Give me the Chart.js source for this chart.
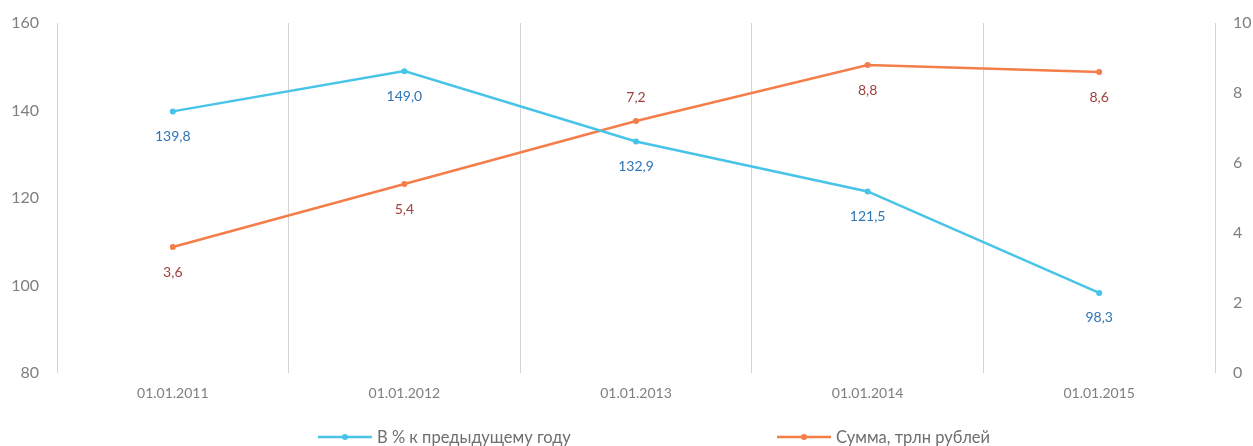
<!DOCTYPE html>
<html>
<head>
<meta charset="utf-8">
<script src="https://cdn.jsdelivr.net/npm/chart.js@4/dist/chart.umd.min.js"></script>
<style>
  html, body { margin: 0; padding: 0; background: #fff; }
  #wrap { width: 1253px; height: 446px; }
</style>
</head>
<body>
<div id="wrap"><canvas id="chart" width="1253" height="446"></canvas></div>
<script>
// data
const dates = ['01.01.2011', '01.01.2012', '01.01.2013', '01.01.2014', '01.01.2015'];
const pctPrevYear = [139.8, 149.0, 132.9, 121.5, 98.3];
const sumTrln = [3.6, 5.4, 7.2, 8.8, 8.6];
const leftTicks = [80, 100, 120, 140, 160];
const rightTicks = [0, 2, 4, 6, 8, 10];

const FONT = 'Lato, "Open Sans", sans-serif';
const cyan = '#47C4E8';
const orange = '#F47D4A';

// value labels under (or over) the points
const valueLabels = {
  id: 'valueLabels',
  afterDatasetsDraw(chart) {
    const ctx = chart.ctx;
    ctx.save();
    ctx.font = '14px ' + FONT;
    ctx.textAlign = 'center';
    ctx.textBaseline = 'middle';
    chart.data.datasets.forEach((ds, i) => {
      const meta = chart.getDatasetMeta(i);
      meta.data.forEach((pt, j) => {
        const above = (ds.labelsAbove || []).includes(j);
        ctx.fillStyle = ds.labelColor;
        const txt = ds.data[j].toFixed(1).replace('.', ',');
        ctx.fillText(txt, pt.x, pt.y + (above ? -24 : 25));
      });
    });
    ctx.restore();
  }
};

// excel-like legend: line with dot, spread wide
const wideLegend = {
  id: 'wideLegend',
  afterDraw(chart) {
    const ctx = chart.ctx;
    const starts = [318, 777];
    const y = 437;
    ctx.save();
    ctx.font = '16.5px ' + FONT;
    ctx.textBaseline = 'middle';
    ctx.textAlign = 'left';
    chart.data.datasets.forEach((ds, i) => {
      const x = starts[i];
      ctx.strokeStyle = ds.borderColor;
      ctx.lineWidth = 2.5;
      ctx.beginPath();
      ctx.moveTo(x, y);
      ctx.lineTo(x + 54, y);
      ctx.stroke();
      ctx.fillStyle = ds.borderColor;
      ctx.beginPath();
      ctx.arc(x + 27, y, 3, 0, Math.PI * 2);
      ctx.fill();
      ctx.fillStyle = '#6e6e6e';
      ctx.fillText(ds.label, x + 59, y + 1);
    });
    ctx.restore();
  }
};

function fixY(width) {
  return function (s) {
    s.width = width;
    s.paddingTop = 0;
    s.paddingBottom = 0;
  };
}

new Chart(document.getElementById('chart'), {
  type: 'line',
  data: {
    labels: dates,
    datasets: [
      {
        label: 'В % к предыдущему году',
        data: pctPrevYear,
        yAxisID: 'y',
        borderColor: cyan,
        backgroundColor: cyan,
        borderWidth: 2.5,
        pointRadius: 3,
        pointBorderWidth: 0,
        tension: 0,
        labelColor: '#2E75B6'
      },
      {
        label: 'Сумма, трлн рублей',
        data: sumTrln,
        yAxisID: 'y1',
        borderColor: orange,
        backgroundColor: orange,
        borderWidth: 2.5,
        pointRadius: 3,
        pointBorderWidth: 0,
        tension: 0,
        labelColor: '#A0403B',
        labelsAbove: [2]
      }
    ]
  },
  options: {
    responsive: false,
    animation: false,
    layout: { padding: { top: 23, right: 0, bottom: 0, left: 0 } },
    plugins: {
      legend: { display: false },
      tooltip: { enabled: false }
    },
    scales: {
      x: {
        offset: true,
        grid: { display: true, offset: true, color: '#d4d4d4', lineWidth: 1, drawTicks: false },
        border: { display: false },
        ticks: { color: '#7f7f7f', font: { family: FONT, size: 14 }, padding: 12, maxRotation: 0 },
        afterFit(s) { s.height = 73; s.paddingLeft = 0; s.paddingRight = 0; }
      },
      y: {
        position: 'left',
        min: 80, max: 160,
        afterBuildTicks(s) { s.ticks = leftTicks.map(v => ({ value: v })); },
        grid: { display: false, drawTicks: false },
        border: { display: false },
        ticks: { color: '#7f7f7f', font: { family: FONT, size: 16 }, padding: 18 },
        afterFit: fixY(57)
      },
      y1: {
        position: 'right',
        min: 0, max: 10,
        afterBuildTicks(s) { s.ticks = rightTicks.map(v => ({ value: v })); },
        grid: { display: false, drawTicks: false },
        border: { display: false },
        ticks: { color: '#7f7f7f', font: { family: FONT, size: 16 }, padding: 18 },
        afterFit: fixY(38)
      }
    }
  },
  plugins: [valueLabels, wideLegend]
});
</script>
</body>
</html>
